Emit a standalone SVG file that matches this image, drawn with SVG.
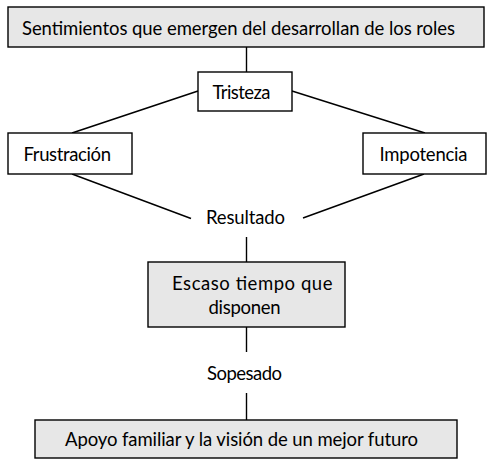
<svg xmlns="http://www.w3.org/2000/svg" width="492" height="468" viewBox="0 0 492 468">
<style>
  .box { stroke: #000; stroke-width: 1.4; }
  .gray { fill: #e7e7e7; }
  .white { fill: #fff; }
  .t { font-family: Lato, "Open Sans", "Liberation Sans", sans-serif; font-size: 18.5px; fill: #000; }
  .conn line { stroke: #000; stroke-width: 1.4; }
</style>
<rect width="492" height="468" fill="#fff"/>
<g class="conn" id="connectors">
  <line x1="246.5" y1="47" x2="246.5" y2="72"/>
  <line x1="198" y1="91" x2="72" y2="133"/>
  <line x1="292" y1="91" x2="425" y2="133"/>
  <line x1="72" y1="174" x2="191" y2="218.5"/>
  <line x1="424" y1="174" x2="303" y2="218"/>
  <line x1="246.5" y1="237" x2="246.5" y2="262"/>
  <line x1="246.5" y1="327" x2="246.5" y2="352"/>
  <line x1="246.5" y1="393" x2="246.5" y2="420"/>
</g>
<g id="node-sentimientos">
  <rect class="box gray" x="8" y="7" width="476" height="40"/>
  <text class="t" x="22" y="35" textLength="433">Sentimientos que emergen del desarrollan de los roles</text>
</g>
<g id="node-tristeza">
  <rect class="box white" x="198" y="72" width="94" height="39"/>
  <text class="t" x="212.5" y="98.5" textLength="58">Tristeza</text>
</g>
<g id="node-frustracion">
  <rect class="box white" x="8" y="133" width="124" height="41"/>
  <text class="t" x="23.5" y="160.5" textLength="87.5">Frustración</text>
</g>
<g id="node-impotencia">
  <rect class="box white" x="363" y="133" width="123" height="41"/>
  <text class="t" x="379.5" y="160.5" textLength="88">Impotencia</text>
</g>
<g id="label-resultado">
  <text class="t" x="206" y="224" textLength="79">Resultado</text>
</g>
<g id="node-escaso">
  <rect class="box gray" x="148" y="262" width="197" height="65"/>
  <text class="t" x="172" y="289.5" textLength="160.5">Escaso tiempo que</text>
  <text class="t" x="208.5" y="313.5" textLength="72">disponen</text>
</g>
<g id="label-sopesado">
  <text class="t" x="207" y="379.5" textLength="75">Sopesado</text>
</g>
<g id="node-apoyo">
  <rect class="box gray" x="35" y="420" width="422" height="38"/>
  <text class="t" x="65" y="446" textLength="353">Apoyo familiar y la visión de un mejor futuro</text>
</g>
</svg>
